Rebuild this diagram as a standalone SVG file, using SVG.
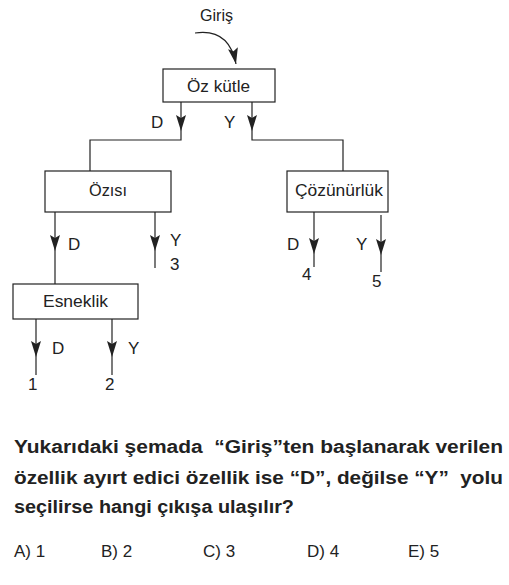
<svg xmlns="http://www.w3.org/2000/svg" width="509" height="585" viewBox="0 0 509 585">
<defs>
<style>
.box{fill:#fff;stroke:#222;stroke-width:1.2}
.ln{fill:none;stroke:#222;stroke-width:1.2}
.t{font-family:"Liberation Sans",Arial,sans-serif;font-size:16px;fill:#222}
.l{font-family:"Liberation Sans",Arial,sans-serif;font-size:17px;fill:#222}
.q{font-family:"Liberation Sans",Arial,sans-serif;font-size:18px;font-weight:bold;fill:#222;white-space:pre}
.a{font-family:"Liberation Sans",Arial,sans-serif;font-size:17px;fill:#222}
</style>
<marker id="ah" viewBox="0 0 16 10" refX="16" refY="5" markerWidth="16" markerHeight="10" markerUnits="userSpaceOnUse" orient="auto">
<path d="M0 0 L16 5 L0 10 L3 5 Z" fill="#222"/>
</marker>
</defs>
<rect width="509" height="585" fill="#fff"/>
<g id="connectors">
<path class="ln" d="M195 33 Q229 28 236 64" marker-end="url(#ah)"/>
<path class="ln" d="M181 102 L181 131" marker-end="url(#ah)"/>
<path class="ln" d="M181 131 L181 140 L90 140 L90 171"/>
<path class="ln" d="M252 102 L252 131" marker-end="url(#ah)"/>
<path class="ln" d="M252 131 L252 140 L343 140 L343 171"/>
<path class="ln" d="M55 212 L55 251" marker-end="url(#ah)"/>
<path class="ln" d="M55 251 L55 284"/>
<path class="ln" d="M155 212 L155 251" marker-end="url(#ah)"/>
<path class="ln" d="M155 251 L155 268"/>
<path class="ln" d="M314 212 L314 254" marker-end="url(#ah)"/>
<path class="ln" d="M314 254 L314 267"/>
<path class="ln" d="M381 215 L381 255" marker-end="url(#ah)"/>
<path class="ln" d="M381 255 L381 272"/>
<path class="ln" d="M36 319 L36 357" marker-end="url(#ah)"/>
<path class="ln" d="M36 357 L36 375"/>
<path class="ln" d="M112 319 L112 357" marker-end="url(#ah)"/>
<path class="ln" d="M112 357 L112 375"/>
</g>
<g id="giris"><text class="t" x="200" y="21" textLength="33" lengthAdjust="spacingAndGlyphs">Giriş</text></g>
<g id="ozkutle">
<rect class="box" x="163" y="69" width="112" height="33"/>
<text class="t" x="187" y="92" textLength="63" lengthAdjust="spacingAndGlyphs">Öz kütle</text>
</g>
<g id="ozisi">
<rect class="box" x="45" y="171" width="126" height="41"/>
<text class="t" x="89" y="196" textLength="38" lengthAdjust="spacingAndGlyphs">Özısı</text>
</g>
<g id="cozunurluk">
<rect class="box" x="287" y="171" width="101" height="41"/>
<text class="t" x="295" y="196" textLength="88" lengthAdjust="spacingAndGlyphs">Çözünürlük</text>
</g>
<g id="esneklik">
<rect class="box" x="13" y="284" width="125" height="35"/>
<text class="t" x="43" y="307" textLength="65" lengthAdjust="spacingAndGlyphs">Esneklik</text>
</g>
<g id="labels">
<text class="l" x="151" y="128">D</text>
<text class="l" x="224" y="128">Y</text>
<text class="l" x="68" y="250">D</text>
<text class="l" x="170" y="246">Y</text>
<text class="l" x="170" y="270">3</text>
<text class="l" x="287" y="250">D</text>
<text class="l" x="356" y="250">Y</text>
<text class="l" x="302" y="280">4</text>
<text class="l" x="372" y="287">5</text>
<text class="l" x="52" y="354">D</text>
<text class="l" x="128" y="354">Y</text>
<text class="l" x="28" y="390">1</text>
<text class="l" x="105" y="390">2</text>
</g>
<g id="question">
<text class="q" x="14" y="453" textLength="489" lengthAdjust="spacingAndGlyphs">Yukarıdaki şemada  “Giriş”ten başlanarak verilen</text>
<text class="q" x="14" y="484" textLength="489" lengthAdjust="spacingAndGlyphs">özellik ayırt edici özellik ise “D”, değilse “Y”  yolu</text>
<text class="q" x="14" y="513" textLength="280" lengthAdjust="spacingAndGlyphs">seçilirse hangi çıkışa ulaşılır?</text>
<text class="a" x="14" y="557">A) 1</text>
<text class="a" x="101" y="557">B) 2</text>
<text class="a" x="203" y="557">C) 3</text>
<text class="a" x="307" y="557">D) 4</text>
<text class="a" x="408" y="557">E) 5</text>
</g>
</svg>
